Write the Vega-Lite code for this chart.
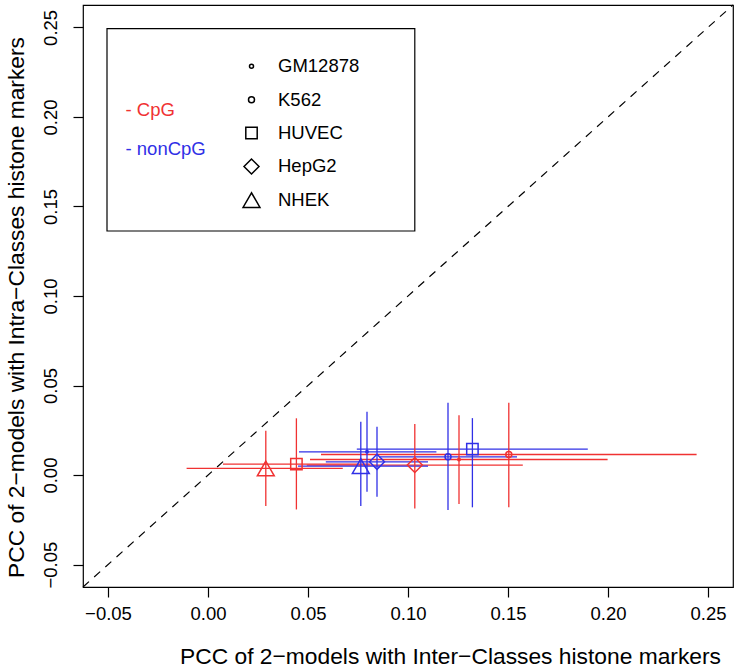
{
  "$schema": "https://vega.github.io/schema/vega-lite/v6.json",
  "width": 650,
  "height": 582,
  "autosize": {"type": "none"},
  "padding": {"left": 83, "top": 5, "right": 5, "bottom": 85},
  "background": "white",
  "config": {
    "font": "Liberation Sans",
    "view": {"stroke": "black", "strokeWidth": 1.2},
    "axis": {
      "domain": false,
      "grid": false,
      "tickColor": "black",
      "tickSize": 10,
      "tickWidth": 1.2,
      "labelColor": "black",
      "labelFontSize": 18.5,
      "labelFont": "Liberation Sans",
      "titleFont": "Liberation Sans",
      "titleFontSize": 22.8,
      "titleFontWeight": "normal",
      "titleColor": "black"
    }
  },
  "data": {
    "values": [
      {"cell": "GM12878", "type": "CpG", "x": 0.1255, "y": 0.0087, "xlo": 0.051, "xhi": 0.1998, "ylo": -0.0161, "yhi": 0.0334},
      {"cell": "K562", "type": "CpG", "x": 0.1504, "y": 0.0115, "xlo": 0.0565, "xhi": 0.2443, "ylo": -0.018, "yhi": 0.0404},
      {"cell": "HUVEC", "type": "CpG", "x": 0.0442, "y": 0.0061, "xlo": 0.0075, "xhi": 0.0809, "ylo": -0.0192, "yhi": 0.0317},
      {"cell": "HepG2", "type": "CpG", "x": 0.1034, "y": 0.0056, "xlo": 0.0494, "xhi": 0.1574, "ylo": -0.0186, "yhi": 0.0285},
      {"cell": "NHEK", "type": "CpG", "x": 0.0289, "y": 0.0037, "xlo": -0.0107, "xhi": 0.0674, "ylo": -0.0173, "yhi": 0.0247},
      {"cell": "GM12878", "type": "nonCpG", "x": 0.0795, "y": 0.013, "xlo": 0.0455, "xhi": 0.1142, "ylo": -0.0093, "yhi": 0.0353},
      {"cell": "K562", "type": "nonCpG", "x": 0.12, "y": 0.0102, "xlo": 0.0855, "xhi": 0.1545, "ylo": -0.0195, "yhi": 0.0404},
      {"cell": "HUVEC", "type": "nonCpG", "x": 0.1322, "y": 0.0145, "xlo": 0.0744, "xhi": 0.1899, "ylo": -0.018, "yhi": 0.0318},
      {"cell": "HepG2", "type": "nonCpG", "x": 0.0845, "y": 0.0074, "xlo": 0.0589, "xhi": 0.11, "ylo": -0.0121, "yhi": 0.027},
      {"cell": "NHEK", "type": "nonCpG", "x": 0.0764, "y": 0.005, "xlo": 0.045, "xhi": 0.11, "ylo": -0.0173, "yhi": 0.0298}
    ]
  },
  "encoding": {
    "x": {
      "type": "quantitative",
      "scale": {"domain": [-0.0625, 0.2625], "nice": false, "zero": false},
      "axis": {"values": [-0.05, 0, 0.05, 0.1, 0.15, 0.2, 0.25], "format": ".2f", "labelPadding": 7, "titleX": 367, "titleY": 69, "titleAlign": "center", "titleBaseline": "middle", "title": "PCC of 2−models with Inter−Classes histone markers"}
    },
    "y": {
      "type": "quantitative",
      "scale": {"domain": [-0.0625, 0.2625], "nice": false, "zero": false},
      "axis": {"values": [-0.05, 0, 0.05, 0.1, 0.15, 0.2, 0.25], "format": ".2f", "labelAngle": -90, "labelAlign": "center", "labelBaseline": "alphabetic", "labelPadding": 17, "titleX": -67, "titleY": 302, "titleAlign": "center", "titleBaseline": "middle", "titleAngle": -90, "title": "PCC of 2−models with Intra−Classes histone markers"}
    }
  },
  "layer": [
    {
      "data": {"values": [{}]},
      "mark": {"type": "rule", "color": "black", "strokeDash": [8, 7], "strokeWidth": 1.2},
      "encoding": {
        "x": {"datum": -0.0625, "type": "quantitative"},
        "y": {"datum": -0.0625, "type": "quantitative"},
        "x2": {"datum": 0.2625},
        "y2": {"datum": 0.2625}
      }
    },
    {
      "data": {"values": [{}]},
      "mark": {"type": "rect", "fill": null, "fillOpacity": 0, "stroke": "black", "strokeWidth": 1.2},
      "encoding": {
        "x": {"datum": -0.0505, "type": "quantitative"},
        "x2": {"datum": 0.1034},
        "y": {"datum": 0.2493, "type": "quantitative"},
        "y2": {"datum": 0.1363}
      }
    },
    {
      "mark": {"type": "rule", "strokeWidth": 1.3},
      "encoding": {
        "x": {"field": "xlo", "type": "quantitative"},
        "x2": {"field": "xhi"},
        "y": {"field": "y", "type": "quantitative"},
        "color": {
          "field": "type", "type": "nominal",
          "scale": {"domain": ["CpG", "nonCpG"], "range": ["#F03232", "#3030E6"]},
          "legend": {
            "orient": "none", "legendX": 24, "legendY": 96, "title": null,
            "labelExpr": "'- ' + datum.label",
            "labelFontSize": 18.5, "labelFont": "Liberation Sans",
            "symbolOpacity": 0, "symbolSize": 1, "labelOffset": 0,
            "rowPadding": 19.5, "padding": 0,
            "encode": {"labels": {"update": {"fill": {"scale": "color", "field": "value"}}}}
          }
        }
      }
    },
    {
      "mark": {"type": "rule", "strokeWidth": 1.3},
      "encoding": {
        "x": {"field": "x", "type": "quantitative"},
        "y": {"field": "ylo", "type": "quantitative"},
        "y2": {"field": "yhi"},
        "color": {"field": "type", "type": "nominal"}
      }
    },
    {
      "transform": [{"filter": "datum.cell !== 'GM12878'"}],
      "mark": {"type": "point", "filled": false, "strokeWidth": 1.5, "opacity": 1},
      "encoding": {
        "x": {"field": "x", "type": "quantitative"},
        "y": {"field": "y", "type": "quantitative"},
        "color": {"field": "type", "type": "nominal"},
        "shape": {
          "field": "cell", "type": "nominal",
          "scale": {"domain": ["GM12878", "K562", "HUVEC", "HepG2", "NHEK"], "range": ["circle", "circle", "square", "diamond", "triangle-up"]},
          "legend": {
            "orient": "none", "legendX": 159, "legendY": 52, "title": null,
            "labelFontSize": 18.5, "labelFont": "Liberation Sans", "labelColor": "black",
            "labelOffset": 17, "rowPadding": 11.4, "gridAlign": "all", "padding": 0,
            "symbolStrokeColor": "black", "symbolStrokeWidth": 1.5, "symbolFillColor": "black",
            "encode": {"symbols": {"update": {
              "fill": {"value": "black"},
              "fillOpacity": {"signal": "datum.value === 'GM12878' ? 1 : 0"},
              "stroke": {"value": "black"}
            }}}
          }
        },
        "size": {
          "field": "cell", "type": "nominal",
          "scale": {"type": "ordinal", "domain": ["GM12878", "K562", "HUVEC", "HepG2", "NHEK"], "range": [16, 36, 130, 225, 285]},
          "legend": {
            "orient": "none", "legendX": 159, "legendY": 52, "title": null,
            "labelFontSize": 18.5, "labelFont": "Liberation Sans", "labelColor": "black",
            "labelOffset": 17, "rowPadding": 11.4, "gridAlign": "all", "padding": 0,
            "symbolStrokeColor": "black", "symbolStrokeWidth": 1.5, "symbolFillColor": "black",
            "encode": {"symbols": {"update": {
              "fill": {"value": "black"},
              "fillOpacity": {"signal": "datum.value === 'GM12878' ? 1 : 0"},
              "stroke": {"value": "black"}
            }}}
          }
        }
      }
    },
    {
      "transform": [{"filter": "datum.cell === 'GM12878'"}],
      "mark": {"type": "point", "filled": true, "opacity": 1},
      "encoding": {
        "x": {"field": "x", "type": "quantitative"},
        "y": {"field": "y", "type": "quantitative"},
        "color": {"field": "type", "type": "nominal"},
        "shape": {
          "field": "cell", "type": "nominal",
          "scale": {"domain": ["GM12878", "K562", "HUVEC", "HepG2", "NHEK"], "range": ["circle", "circle", "square", "diamond", "triangle-up"]}
        },
        "size": {
          "field": "cell", "type": "nominal",
          "scale": {"type": "ordinal", "domain": ["GM12878", "K562", "HUVEC", "HepG2", "NHEK"], "range": [16, 36, 130, 225, 285]}
        }
      }
    }
  ]
}
